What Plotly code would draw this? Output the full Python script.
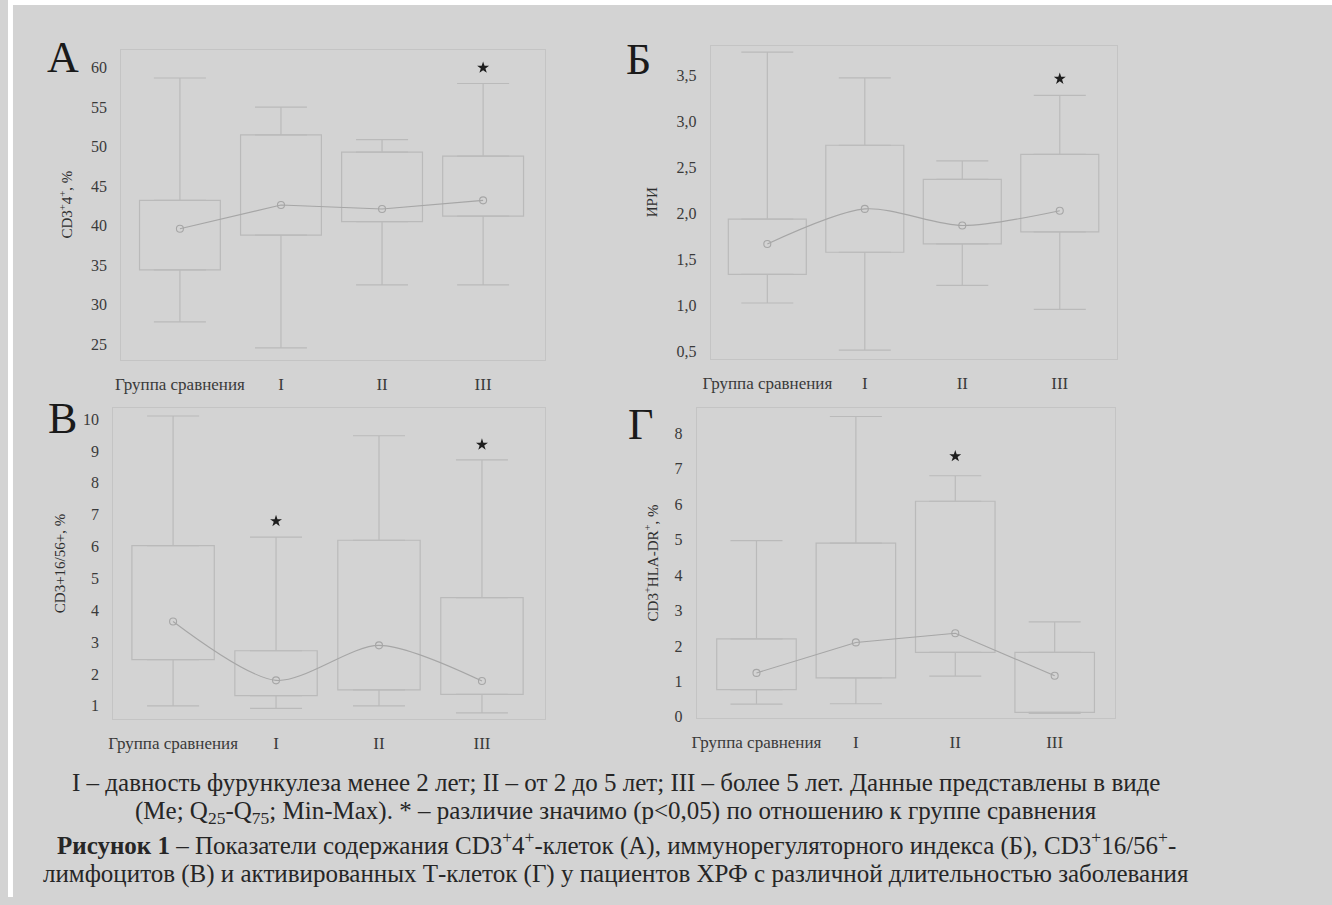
import plotly.graph_objects as go

# ---------------- data ----------------
categories = ["Группа сравнения", "I", "II", "III"]
cat_pos = [0, 1, 2, 3]

# Panel А: CD3+4+, %
A_min = [27.8, 24.5, 32.5, 32.5]
A_q1 = [34.4, 38.8, 40.5, 41.2]
A_med = [39.6, 42.6, 42.1, 43.2]
A_q3 = [43.2, 51.5, 49.3, 48.8]
A_max = [58.7, 55.0, 50.9, 58.0]
A_star_x = [3]
A_star_y = [60.0]
A_ticks = [25, 30, 35, 40, 45, 50, 55, 60]
A_ticktext = ["25", "30", "35", "40", "45", "50", "55", "60"]

# Panel Б: ИРИ
B_min = [1.03, 0.52, 1.22, 0.96]
B_q1 = [1.34, 1.58, 1.67, 1.80]
B_med = [1.67, 2.05, 1.87, 2.03]
B_q3 = [1.94, 2.74, 2.37, 2.64]
B_max = [3.75, 3.47, 2.57, 3.28]
B_star_x = [3]
B_star_y = [3.46]
B_ticks = [0.5, 1.0, 1.5, 2.0, 2.5, 3.0, 3.5]
B_ticktext = ["0,5", "1,0", "1,5", "2,0", "2,5", "3,0", "3,5"]

# Panel В: CD3+16/56+, %
V_min = [1.0, 0.92, 1.0, 0.78]
V_q1 = [2.45, 1.32, 1.5, 1.36]
V_med = [3.65, 1.8, 2.9, 1.78]
V_q3 = [6.03, 2.73, 6.2, 4.4]
V_max = [10.1, 6.3, 9.48, 8.72]
V_star_x = [1, 3]
V_star_y = [6.8, 9.2]
V_ticks = [1, 2, 3, 4, 5, 6, 7, 8, 9, 10]
V_ticktext = ["1", "2", "3", "4", "5", "6", "7", "8", "9", "10"]

# Panel Г: CD3+HLA-DR+, %
G_min = [0.36, 0.37, 1.15, 0.10]
G_q1 = [0.77, 1.10, 1.82, 0.13]
G_med = [1.24, 2.10, 2.36, 1.16]
G_q3 = [2.20, 4.90, 6.08, 1.82]
G_max = [4.97, 8.47, 6.80, 2.68]
G_star_x = [2]
G_star_y = [7.35]
G_ticks = [0, 1, 2, 3, 4, 5, 6, 7, 8]
G_ticktext = ["0", "1", "2", "3", "4", "5", "6", "7", "8"]

caption_lines = [
    "I – давность фурункулеза менее 2 лет; II – от 2 до 5 лет; III – более 5 лет. Данные представлены в виде",
    "(Me; Q<sub>25</sub>-Q<sub>75</sub>; Min-Max). * – различие значимо (p&lt;0,05) по отношению к группе сравнения",
    "<b>Рисунок 1</b> – Показатели содержания CD3<sup>+</sup>4<sup>+</sup>-клеток (А), иммунорегуляторного индекса (Б), CD3<sup>+</sup>16/56<sup>+</sup>-",
    "лимфоцитов (В) и активированных Т-клеток (Г) у пациентов ХРФ с различной длительностью заболевания",
]

# ---------------- style ----------------
W, H = 1332, 905
BG = "#d3d3d3"
BOX = "#bababa"
MEDLINE = "#a6a6a6"
FRAME = "#c4c4c4"
SERIF = "Liberation Serif"

panels = [
    dict(letter="А", mn=A_min, q1=A_q1, md=A_med, q3=A_q3, mx=A_max,
         sx=A_star_x, sy=A_star_y, tv=A_ticks, tt=A_ticktext,
         title="CD3<sup>+</sup>4<sup>+</sup>, %", standoff=14, spline=False,
         px=(114, 540), py=(50, 363), xr=[-0.58, 3.61], yr=[23.0, 62.3],
         lpos=(55, 58)),
    dict(letter="Б", mn=B_min, q1=B_q1, md=B_med, q3=B_q3, mx=B_max,
         sx=B_star_x, sy=B_star_y, tv=B_ticks, tt=B_ticktext,
         title="ИРИ", standoff=15, spline=True,
         px=(707, 1116), py=(46, 362), xr=[-0.58, 3.59], yr=[0.425, 3.82],
         lpos=(634, 60)),
    dict(letter="В", mn=V_min, q1=V_q1, md=V_med, q3=V_q3, mx=V_max,
         sx=V_star_x, sy=V_star_y, tv=V_ticks, tt=V_ticktext,
         title="CD3+16/56+, %", standoff=13, spline=True,
         px=(106, 540), py=(412, 725), xr=[-0.58, 3.61], yr=[0.6, 10.34],
         lpos=(55, 422)),
    dict(letter="Г", mn=G_min, q1=G_q1, md=G_med, q3=G_q3, mx=G_max,
         sx=G_star_x, sy=G_star_y, tv=G_ticks, tt=G_ticktext,
         title="CD3<sup>+</sup>HLA-DR<sup>+</sup>, %", standoff=12, spline=False,
         px=(693, 1114), py=(412, 724), xr=[-0.6, 3.61], yr=[-0.02, 8.7],
         lpos=(636, 428)),
]

fig = go.Figure()
layout = dict(
    width=W, height=H, autosize=False,
    margin=dict(l=0, r=0, t=0, b=0),
    paper_bgcolor=BG, plot_bgcolor=BG,
    showlegend=False, barmode="overlay",
    font=dict(family=SERIF, color="#333333"),
    annotations=[], shapes=[],
)

for i, p in enumerate(panels):
    n = i + 1
    xa = "x" if n == 1 else f"x{n}"
    ya = "y" if n == 1 else f"y{n}"
    iqr = [b - a for a, b in zip(p["q1"], p["q3"])]
    up = [b - a for a, b in zip(p["q3"], p["mx"])]
    lo = [a - b for a, b in zip(p["q1"], p["mn"])]
    zeros = [0] * len(cat_pos)
    # box bodies (Q25-Q75)
    fig.add_trace(go.Bar(x=cat_pos, y=iqr, base=p["q1"], width=0.8,
                         marker=dict(color="rgba(0,0,0,0)",
                                     line=dict(color=BOX, width=1.2)),
                         xaxis=xa, yaxis=ya, hoverinfo="skip"))
    # upper whiskers
    fig.add_trace(go.Scatter(x=cat_pos, y=p["q3"], mode="markers",
                             marker=dict(size=1, color="rgba(0,0,0,0)"),
                             error_y=dict(type="data", symmetric=False, array=up,
                                          arrayminus=zeros, width=26,
                                          color=BOX, thickness=1.2),
                             xaxis=xa, yaxis=ya, hoverinfo="skip"))
    # lower whiskers
    fig.add_trace(go.Scatter(x=cat_pos, y=p["q1"], mode="markers",
                             marker=dict(size=1, color="rgba(0,0,0,0)"),
                             error_y=dict(type="data", symmetric=False, array=zeros,
                                          arrayminus=lo, width=26,
                                          color=BOX, thickness=1.2),
                             xaxis=xa, yaxis=ya, hoverinfo="skip"))
    # medians connected by a line
    fig.add_trace(go.Scatter(x=cat_pos, y=p["md"], mode="lines+markers",
                             line=dict(color=MEDLINE, width=1.1,
                                       shape="spline" if p["spline"] else "linear",
                                       smoothing=0.8),
                             marker=dict(symbol="circle-open", size=7,
                                         color=MEDLINE, line=dict(width=1.1)),
                             xaxis=xa, yaxis=ya))
    # significance stars
    fig.add_trace(go.Scatter(x=p["sx"], y=p["sy"], mode="markers",
                             marker=dict(symbol="star", size=9, color="#1e1e1e"),
                             xaxis=xa, yaxis=ya))

    x0, x1 = p["px"]
    y0, y1 = p["py"]
    xkey = "xaxis" if n == 1 else f"xaxis{n}"
    ykey = "yaxis" if n == 1 else f"yaxis{n}"
    layout[xkey] = dict(domain=[x0 / W, x1 / W], range=p["xr"], anchor=ya,
                        tickmode="array", tickvals=cat_pos, ticktext=categories,
                        showgrid=False, zeroline=False, showline=True, mirror=True,
                        linecolor=FRAME, linewidth=1.2, ticks="",
                        ticklabelstandoff=9,
                        tickfont=dict(family=SERIF, size=17, color="#3a3a3a"))
    layout[ykey] = dict(domain=[1 - y1 / H, 1 - y0 / H], range=p["yr"], anchor=xa,
                        tickmode="array", tickvals=p["tv"], ticktext=p["tt"],
                        showgrid=False, zeroline=False, showline=True, mirror=True,
                        linecolor=FRAME, linewidth=1.2, ticks="",
                        ticklabelstandoff=10,
                        tickfont=dict(family=SERIF, size=16, color="#3a3a3a"),
                        title=dict(text=p["title"], standoff=p["standoff"],
                                   font=dict(family=SERIF, size=15, color="#2e2e2e")))
    lx, ly = p["lpos"]
    layout["annotations"].append(dict(
        text=p["letter"], x=lx / W, y=1 - ly / H, xref="paper", yref="paper",
        xanchor="center", yanchor="middle", showarrow=False,
        font=dict(family=SERIF, size=44, color="#1a1a1a")))

cap_y = [789, 820, 851, 882]
for txt, cy in zip(caption_lines, cap_y):
    layout["annotations"].append(dict(
        text=txt, x=612 / W, y=1 - cy / H, xref="paper", yref="paper",
        xanchor="center", yanchor="middle", showarrow=False,
        font=dict(family=SERIF, size=25, color="#262626")))

# white scan border on top and left
layout["shapes"].append(dict(type="rect", xref="paper", yref="paper",
                             x0=0, x1=1, y0=1 - 5 / H, y1=1,
                             fillcolor="white", line=dict(width=0), layer="below"))
layout["shapes"].append(dict(type="rect", xref="paper", yref="paper",
                             x0=0, x1=5 / W, y0=0, y1=1,
                             fillcolor="white", line=dict(width=0), layer="below"))

fig.update_layout(**layout)

# place the figure flush at the page origin and let it fill the viewport
page_js = (
    "var d=document.getElementById('{plot_id}');"
    "d.style.position='absolute';d.style.left='0px';d.style.top='0px';"
    "var h=document.documentElement;h.style.margin='0';h.style.overflow='hidden';"
    "var b=document.body;b.style.margin='0';b.style.overflow='hidden';"
    "var vw=window.innerWidth||1332, vh=window.innerHeight||905;"
    "if(vw!==1332||vh!==905){Plotly.relayout(d,{width:vw,height:vh});}"
)
fig.write_html("out.html", config={"displayModeBar": False}, post_script=page_js)
